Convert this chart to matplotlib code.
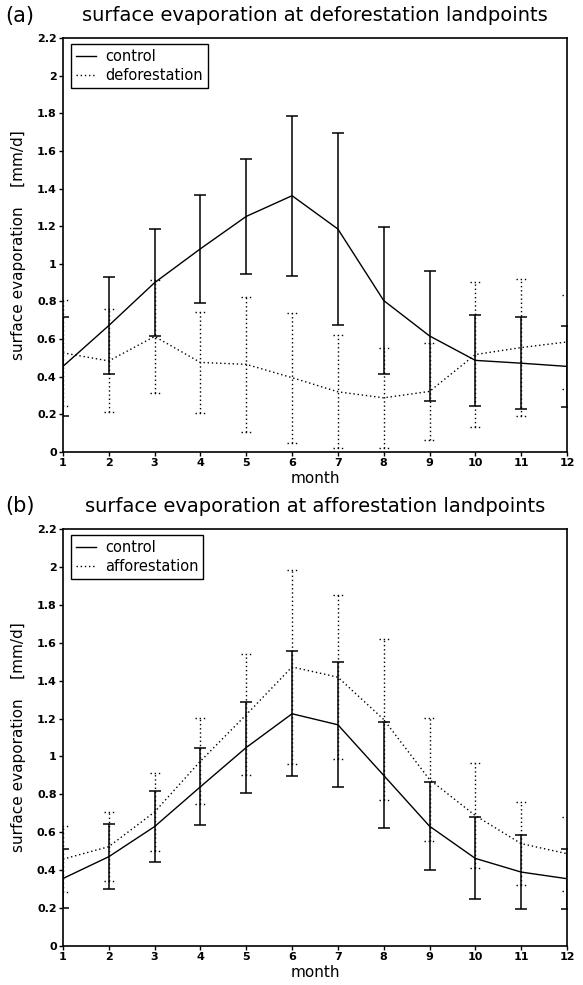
import numpy as np
from matplotlib import pyplot as plt
from matplotlib.ticker import FormatStrFormatter

months = np.arange(1, 13)

# (a) deforestation landpoints
ctl_a = [0.455, 0.672, 0.900, 1.080, 1.252, 1.362, 1.185, 0.805, 0.617, 0.487, 0.472, 0.455]
ctl_a_sd = [0.265, 0.258, 0.283, 0.288, 0.305, 0.425, 0.510, 0.390, 0.345, 0.240, 0.245, 0.215]
defo = [0.527, 0.484, 0.614, 0.476, 0.466, 0.395, 0.320, 0.288, 0.322, 0.518, 0.555, 0.585]
defo_sd = [0.283, 0.274, 0.300, 0.267, 0.358, 0.345, 0.300, 0.264, 0.256, 0.385, 0.365, 0.248]

# (b) afforestation landpoints
ctl_b = [0.356, 0.471, 0.630, 0.840, 1.047, 1.225, 1.167, 0.900, 0.632, 0.462, 0.390, 0.355]
ctl_b_sd = [0.158, 0.171, 0.187, 0.204, 0.241, 0.330, 0.330, 0.280, 0.232, 0.216, 0.194, 0.158]
affo = [0.458, 0.524, 0.707, 0.975, 1.220, 1.472, 1.418, 1.195, 0.878, 0.688, 0.540, 0.487]
affo_sd = [0.175, 0.183, 0.205, 0.228, 0.320, 0.510, 0.434, 0.425, 0.323, 0.278, 0.217, 0.196]

DOT = (0, (1, 2))


def panel(ax, letter, titel, ctl, ctl_sd, exp, exp_sd, exp_name):
    ctl = np.array(ctl)
    ctl_sd = np.array(ctl_sd)
    exp = np.array(exp)
    exp_sd = np.array(exp_sd)

    # dotted experiment with dotted error bars
    ax.plot(months, exp, color='black', lw=1.0, linestyle=DOT, label=exp_name)
    ax.vlines(months, exp - exp_sd, exp + exp_sd, colors='black', lw=1.0, linestyles=DOT)
    for y in (exp - exp_sd, exp + exp_sd):
        ax.hlines(y, months - 0.11, months + 0.11, colors='black', lw=1.0, linestyles=DOT)

    # solid control with error bars
    ax.plot(months, ctl, color='black', lw=1.0, label='control')
    ax.errorbar(months, ctl, yerr=ctl_sd, fmt='none', ecolor='black',
                elinewidth=1.1, capsize=4.3, capthick=1.1)

    ax.set_xlim(1, 12)
    ax.set_ylim(0, 2.2)
    ax.set_xticks(months)
    ax.set_yticks(np.arange(0, 2.21, 0.2))
    ax.yaxis.set_major_formatter(FormatStrFormatter('%g'))
    ax.tick_params(direction='out', length=3, width=1, labelsize=8, pad=1.5)
    for lab in ax.get_xticklabels() + ax.get_yticklabels():
        lab.set_fontweight('bold')
    for sp in ax.spines.values():
        sp.set_linewidth(1.2)

    ax.set_xlabel('month', fontsize=11, labelpad=2)
    ax.set_ylabel('surface evaporation    [mm/d]', fontsize=11, labelpad=8)
    ax.set_title(titel, fontsize=14, pad=12)
    ax.text(-0.115, 1.03, letter, transform=ax.transAxes, fontsize=15,
            ha='left', va='bottom')

    h, l = ax.get_legend_handles_labels()
    leg = ax.legend(h[::-1], l[::-1], loc='upper left', fontsize=10.5,
                    handlelength=1.4, handletextpad=0.6, borderpad=0.35,
                    labelspacing=0.25, fancybox=False, framealpha=1,
                    borderaxespad=0, bbox_to_anchor=(0.015, 0.985))
    leg.get_frame().set_edgecolor('black')
    leg.get_frame().set_linewidth(1.0)


fig = plt.figure(figsize=(5.83, 9.85), dpi=100)
ax1 = fig.add_axes([0.108, 0.5411, 0.8645, 0.4203])
ax2 = fig.add_axes([0.108, 0.0396, 0.8645, 0.4234])

panel(ax1, '(a)', 'surface evaporation at deforestation landpoints',
      ctl_a, ctl_a_sd, defo, defo_sd, 'deforestation')
panel(ax2, '(b)', 'surface evaporation at afforestation landpoints',
      ctl_b, ctl_b_sd, affo, affo_sd, 'afforestation')

fig.savefig('out.png', dpi=100)
